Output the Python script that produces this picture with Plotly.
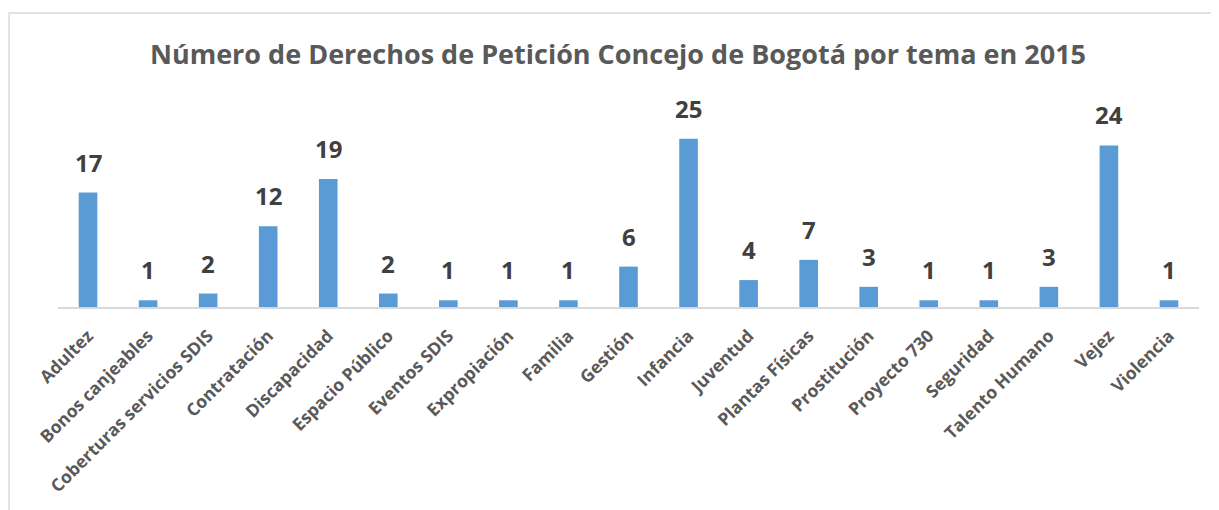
import plotly.graph_objects as go

categories = ["Adultez", "Bonos canjeables", "Coberturas servicios SDIS", "Contratación",
              "Discapacidad", "Espacio Público", "Eventos SDIS", "Expropiación", "Familia",
              "Gestión", "Infancia", "Juventud", "Plantas Físicas", "Prostitución",
              "Proyecto 730", "Seguridad", "Talento Humano", "Vejez", "Violencia"]
values = [17, 1, 2, 12, 19, 2, 1, 1, 1, 6, 25, 4, 7, 3, 1, 1, 3, 24, 1]
title_text = "Número de Derechos de Petición Concejo de Bogotá por tema en 2015"

FONT = "Open Sans"
W, H = 1211, 502  # page body has an 8px margin

fig = go.Figure()
fig.add_trace(go.Bar(
    x=categories, y=values,
    marker=dict(color="#5B9BD5", line=dict(width=0)),
    hoverinfo="x+y",
))

annotations = [
    dict(x=c, y=v, text=str(v), xref="x", yref="y", showarrow=False,
         yanchor="bottom", yshift=12,
         font=dict(family=FONT, size=24, color="#404040", weight="bold"))
    for c, v in zip(categories, values)
]

fig.update_layout(
    width=W, height=H,
    margin=dict(l=50, r=20, t=97, b=203),
    paper_bgcolor="white", plot_bgcolor="white",
    bargap=0.69,
    showlegend=False,
    title=dict(text=title_text, x=610 / W, xref="container", xanchor="center",
               y=1 - 47 / H, yref="container", yanchor="middle",
               font=dict(family=FONT, size=27, color="#595959", weight="bold")),
    annotations=annotations,
    shapes=[dict(type="rect", xref="paper", yref="paper",
                 x0=-0.0429, x1=1.03, y0=-1.2, y1=1.455,
                 line=dict(color="#D9D9D9", width=1.5), layer="below")],
)
fig.update_xaxes(tickangle=-45, showline=True, linecolor="#D9D9D9", linewidth=1.5,
                 showgrid=False, ticks="", ticklabelstandoff=10,
                 tickfont=dict(family=FONT, size=17.5, color="#595959", weight="bold"))
fig.update_yaxes(range=[0, 30], visible=False, showgrid=False)

fig.write_html("out.html")
